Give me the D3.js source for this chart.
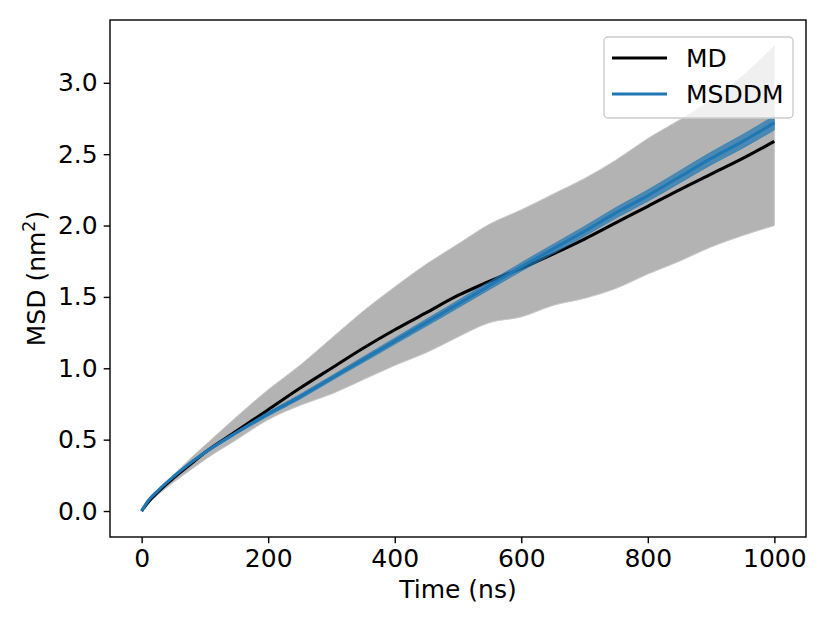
<!DOCTYPE html>
<html>
<head>
<meta charset="utf-8">
<script src="https://cdn.jsdelivr.net/npm/d3@7"></script>
<style>
  html, body { margin: 0; padding: 0; background: #fff; }
  svg { display: block; font-family: "DejaVu Sans", sans-serif; }
</style>
</head>
<body>
<svg id="chart" width="830" height="623"></svg>
<script>
// ---- data ----
const times = [0, 10, 25, 50, 75, 100, 150, 200, 250, 300, 350, 400, 450, 500, 550, 600, 650, 700, 750, 800, 850, 900, 950, 1000];
const mdMean = [0, 0.06, 0.13, 0.23, 0.32, 0.41, 0.56, 0.71, 0.86, 1.00, 1.14, 1.27, 1.39, 1.51, 1.61, 1.70, 1.80, 1.905, 2.02, 2.135, 2.25, 2.36, 2.47, 2.59];
const mdUpper = [0, 0.07, 0.14, 0.25, 0.36, 0.46, 0.66, 0.85, 1.02, 1.21, 1.40, 1.57, 1.73, 1.87, 2.01, 2.11, 2.22, 2.33, 2.46, 2.61, 2.74, 2.88, 3.05, 3.26];
const mdLower = [0, 0.05, 0.11, 0.20, 0.28, 0.36, 0.50, 0.64, 0.74, 0.82, 0.92, 1.02, 1.11, 1.22, 1.32, 1.36, 1.44, 1.49, 1.56, 1.66, 1.75, 1.85, 1.93, 2.00];
const msddmMean = [0, 0.07, 0.14, 0.24, 0.33, 0.41, 0.55, 0.68, 0.80, 0.93, 1.06, 1.19, 1.32, 1.45, 1.58, 1.71, 1.835, 1.96, 2.09, 2.21, 2.34, 2.47, 2.59, 2.72];
const msddmUpper = [0, 0.072, 0.145, 0.247, 0.338, 0.42, 0.56, 0.695, 0.817, 0.947, 1.08, 1.212, 1.345, 1.477, 1.608, 1.74, 1.868, 1.995, 2.128, 2.25, 2.383, 2.515, 2.638, 2.77];
const msddmLower = [0, 0.068, 0.135, 0.233, 0.322, 0.40, 0.54, 0.665, 0.783, 0.913, 1.04, 1.168, 1.295, 1.423, 1.552, 1.68, 1.802, 1.925, 2.052, 2.17, 2.297, 2.425, 2.542, 2.67];
const xTicks = [0, 200, 400, 600, 800, 1000];
const yTicks = [0.0, 0.5, 1.0, 1.5, 2.0, 2.5, 3.0];
const seriesNames = ["MD", "MSDDM"];
const seriesColors = ["#000000", "#1f77b4"];

// ---- layout ----
const svg = d3.select("#chart");
const L = 110, R = 806, T = 20, B = 537;
const x = d3.scaleLinear().domain([-50, 1050]).range([L, R]);
const y = d3.scaleLinear().domain([-0.182, 3.44]).range([B, T]);
const FS = 25;
const LW = 3.1;

const idx = d3.range(times.length);

// gray MD band
const band = d3.area()
  .x(i => x(times[i]))
  .y0(i => y(mdLower[i]))
  .y1(i => y(mdUpper[i]))
  .curve(d3.curveMonotoneX);

svg.append("path").datum(idx)
  .attr("d", band)
  .attr("fill", "#b3b3b3")
  .attr("stroke", "#c8c8c8")
  .attr("stroke-width", 1);

// MD line
const line = arr => d3.line().x(i => x(times[i])).y(i => y(arr[i])).curve(d3.curveMonotoneX);
svg.append("path").datum(idx)
  .attr("d", line(mdMean))
  .attr("fill", "none")
  .attr("stroke", seriesColors[0])
  .attr("stroke-width", LW);

// MSDDM band
const band2 = d3.area()
  .x(i => x(times[i]))
  .y0(i => y(msddmLower[i]))
  .y1(i => y(msddmUpper[i]))
  .curve(d3.curveMonotoneX);
svg.append("path").datum(idx)
  .attr("d", band2)
  .attr("fill", "#1f77b4")
  .attr("fill-opacity", 0.7)
  .attr("stroke", "#1f77b4")
  .attr("stroke-opacity", 0.5)
  .attr("stroke-width", 1);

// MSDDM line
svg.append("path").datum(idx)
  .attr("d", line(msddmMean))
  .attr("fill", "none")
  .attr("stroke", seriesColors[1])
  .attr("stroke-width", LW);

// ---- axes ----
const xAxis = d3.axisBottom(x).tickValues(xTicks).tickSize(6.3).tickPadding(6).tickFormat(d3.format("d"));
const yAxis = d3.axisLeft(y).tickValues(yTicks).tickSize(6.3).tickPadding(6).tickFormat(d3.format(".1f"));

const gx = svg.append("g").attr("transform", `translate(0,${B})`).call(xAxis);
const gy = svg.append("g").attr("transform", `translate(${L},0)`).call(yAxis);
[gx, gy].forEach(g => {
  g.select(".domain").remove();
  g.selectAll(".tick line").attr("stroke", "#000").attr("stroke-width", 1.4);
  g.selectAll(".tick text").attr("fill", "#000").attr("font-size", FS).attr("font-family", "DejaVu Sans");
});

// frame
svg.append("rect")
  .attr("x", L).attr("y", T).attr("width", R - L).attr("height", B - T)
  .attr("fill", "none").attr("stroke", "#000").attr("stroke-width", 1.4);

// axis labels
svg.append("text")
  .attr("x", (L + R) / 2).attr("y", 598)
  .attr("text-anchor", "middle").attr("font-size", FS)
  .text("Time (ns)");

const yl = svg.append("text")
  .attr("transform", `translate(45,${(T + B) / 2}) rotate(-90)`)
  .attr("text-anchor", "middle").attr("font-size", FS);
yl.append("tspan").text("MSD (nm");
yl.append("tspan").attr("baseline-shift", "super").attr("font-size", FS * 0.7).text("2");
yl.append("tspan").text(")");

// ---- legend ----
const lg = svg.append("g");
lg.append("rect")
  .attr("x", 604).attr("y", 37).attr("width", 189).attr("height", 81)
  .attr("rx", 4).attr("ry", 4)
  .attr("fill", "#fff").attr("fill-opacity", 0.8)
  .attr("stroke", "#cccccc").attr("stroke-width", 1.4);
seriesNames.forEach((name, i) => {
  const cy = 58 + i * 36;
  lg.append("line")
    .attr("x1", 612).attr("x2", 667).attr("y1", cy).attr("y2", cy)
    .attr("stroke", seriesColors[i]).attr("stroke-width", LW);
  lg.append("text")
    .attr("x", 686).attr("y", cy).attr("dy", "0.36em")
    .attr("font-size", FS).text(name);
});
</script>
</body>
</html>
